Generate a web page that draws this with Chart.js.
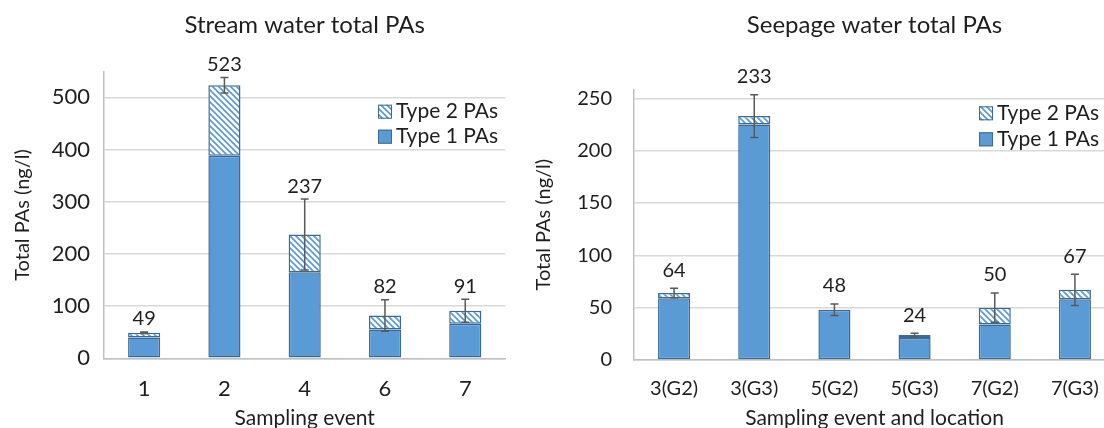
<!DOCTYPE html>
<html>
<head>
<meta charset="utf-8">
<script src="https://cdn.jsdelivr.net/npm/chart.js@4.4.1/dist/chart.umd.min.js"></script>
<style>
  html, body { margin: 0; padding: 0; background: #fff; overflow: hidden; }
  #wrap { position: relative; width: 1104px; height: 428px; overflow: hidden; }
  #streamChart { position: absolute; left: 0; top: 0; }
  #seepChart { position: absolute; left: 520px; top: 0; }
</style>
</head>
<body>
<div id="wrap">
  <canvas id="streamChart" width="520" height="428"></canvas>
  <canvas id="seepChart" width="605" height="428"></canvas>
</div>
<script>
// stream water, by sampling event
const streamEvents = ['1', '2', '4', '6', '7'];
const streamType1 = [40, 388, 165, 55, 66];
const streamType2 = [9, 135, 72, 27, 25];
const streamTotals = [49, 523, 237, 82, 91];
const streamErr = [1.5, 15, 68, 30, 22];
const streamTicks = [0, 100, 200, 300, 400, 500];

// seepage water, by sampling event and location
const seepLocs = ['3(G2)', '3(G3)', '5(G2)', '5(G3)', '7(G2)', '7(G3)'];
const seepType1 = [59, 225, 48, 21, 34, 58];
const seepType2 = [5, 8, 0, 3, 16, 9];
const seepTotals = [64, 233, 48, 24, 50, 67];
const seepErr = [4.5, 20.5, 5.5, 1.5, 14, 15];
const seepTicks = [0, 50, 100, 150, 200, 250];

const BLUE = '#5b9bd5';
const EDGE = '#3b6a94';
const TEXT = '#1e1e1e';

Chart.defaults.font.family = 'Lato';
Chart.defaults.color = TEXT;

function hatch() {
  const c = document.createElement('canvas');
  c.width = 6; c.height = 6;
  const g = c.getContext('2d');
  g.fillStyle = '#fff';
  g.fillRect(0, 0, 6, 6);
  g.strokeStyle = BLUE;
  g.lineWidth = 1.7;
  g.beginPath();
  g.moveTo(-1, -1); g.lineTo(7, 7);
  g.moveTo(-1, 5); g.lineTo(1, 7);
  g.moveTo(5, -1); g.lineTo(7, 1);
  g.stroke();
  return g.createPattern(c, 'repeat');
}

// error bars, total labels, legend and title
const extras = {
  id: 'extras',
  afterDatasetsDraw(chart, args, opts) {
    const ctx = chart.ctx;
    const y = chart.scales.y;
    const area = chart.chartArea;
    const meta = chart.getDatasetMeta(chart.data.datasets.length - 1);
    ctx.save();
    meta.data.forEach((bar, i) => {
      const t = opts.totals[i];
      const e = opts.errors[i];
      const hi = y.getPixelForValue(t + e);
      const lo = y.getPixelForValue(t - e);
      ctx.strokeStyle = '#595959';
      ctx.lineWidth = 1.5;
      ctx.beginPath();
      ctx.moveTo(bar.x, hi); ctx.lineTo(bar.x, lo);
      ctx.moveTo(bar.x - 4, hi); ctx.lineTo(bar.x + 4, hi);
      ctx.moveTo(bar.x - 4, lo); ctx.lineTo(bar.x + 4, lo);
      ctx.stroke();
      const top = Math.min(hi, y.getPixelForValue(t));
      ctx.fillStyle = TEXT;
      ctx.font = '20px Lato';
      ctx.textAlign = 'center';
      ctx.textBaseline = 'middle';
      ctx.fillText(String(t), bar.x, top - opts.labelGap);
    });

    // legend, top item is the upper stack
    const items = chart.data.datasets.slice().reverse();
    items.forEach((ds, k) => {
      const cy = opts.legendY[k];
      ctx.fillStyle = ds.backgroundColor;
      ctx.fillRect(opts.legendX, cy - 7, 14, 14);
      ctx.strokeStyle = EDGE;
      ctx.lineWidth = 1;
      ctx.strokeRect(opts.legendX + 0.5, cy - 6.5, 13, 13);
      ctx.fillStyle = TEXT;
      ctx.font = '21px Lato';
      ctx.textAlign = 'left';
      ctx.textBaseline = 'middle';
      ctx.fillText(ds.label, opts.legendX + 18, cy);
    });

    ctx.font = '24px Lato';
    ctx.textAlign = 'center';
    ctx.fillText(opts.title, (area.left + area.right) / 2, 25);
    ctx.restore();
  }
};

function makeChart(id, cfg) {
  const barStyle = {
    borderColor: EDGE,
    borderWidth: 1.5,
    borderSkipped: false,
    categoryPercentage: 1,
    barPercentage: cfg.barPct
  };
  new Chart(document.getElementById(id), {
    type: 'bar',
    data: {
      labels: cfg.labels,
      datasets: [
        Object.assign({ label: 'Type 1 PAs', data: cfg.type1, backgroundColor: BLUE }, barStyle),
        Object.assign({ label: 'Type 2 PAs', data: cfg.type2, backgroundColor: hatch() }, barStyle)
      ]
    },
    options: {
      responsive: false,
      animation: false,
      layout: { padding: { top: cfg.top, right: cfg.right, left: 0, bottom: 0 } },
      scales: {
        x: {
          stacked: true,
          grid: { display: false },
          border: { color: '#bfbfbf', width: 1.5 },
          ticks: { font: { size: cfg.tickSize }, padding: cfg.xPad },
          title: {
            display: true, text: cfg.xTitle,
            font: { size: 21, lineHeight: 1 }, padding: { top: 0, bottom: -1 }
          },
          afterFit: s => { s.height = cfg.xHeight; }
        },
        y: {
          stacked: true,
          min: 0,
          max: cfg.max,
          grid: { color: '#d9d9d9', lineWidth: 1.5, drawTicks: false },
          border: { color: '#bfbfbf', width: 1.5 },
          ticks: { font: { size: cfg.tickSize }, padding: cfg.yPad },
          afterBuildTicks: s => { s.ticks = cfg.ticks.map(v => ({ value: v })); },
          title: {
            display: true, text: 'Total PAs (ng/l)',
            font: { size: 20 }, padding: { top: cfg.yTitlePad, bottom: 0 }
          },
          afterFit: s => { s.width = cfg.yWidth; }
        }
      },
      plugins: {
        legend: { display: false },
        tooltip: { enabled: false },
        extras: {
          totals: cfg.totals, errors: cfg.errors, labelGap: cfg.labelGap,
          legendX: cfg.legendX, legendY: cfg.legendY, title: cfg.title
        }
      }
    },
    plugins: [extras]
  });
}

makeChart('streamChart', {
  labels: streamEvents, type1: streamType1, type2: streamType2,
  totals: streamTotals, errors: streamErr, ticks: streamTicks,
  title: 'Stream water total PAs', xTitle: 'Sampling event',
  max: 549, top: 71.7, right: 14.6, yWidth: 104, xHeight: 69.7,
  barPct: 0.4, tickSize: 22, xPad: 9, yPad: 14, yTitlePad: 11,
  labelGap: 13, legendX: 378, legendY: [111.7, 136.7]
});

makeChart('seepChart', {
  labels: seepLocs, type1: seepType1, type2: seepType2,
  totals: seepTotals, errors: seepErr, ticks: seepTicks,
  title: 'Seepage water total PAs', xTitle: 'Sampling event and location',
  max: 258.6, top: 89.3, right: 10, yWidth: 114, xHeight: 68,
  barPct: 0.4, tickSize: 20, xPad: 9, yPad: 22, yTitlePad: 12,
  labelGap: 18, legendX: 459, legendY: [113.3, 139.3]
});
</script>
</body>
</html>
